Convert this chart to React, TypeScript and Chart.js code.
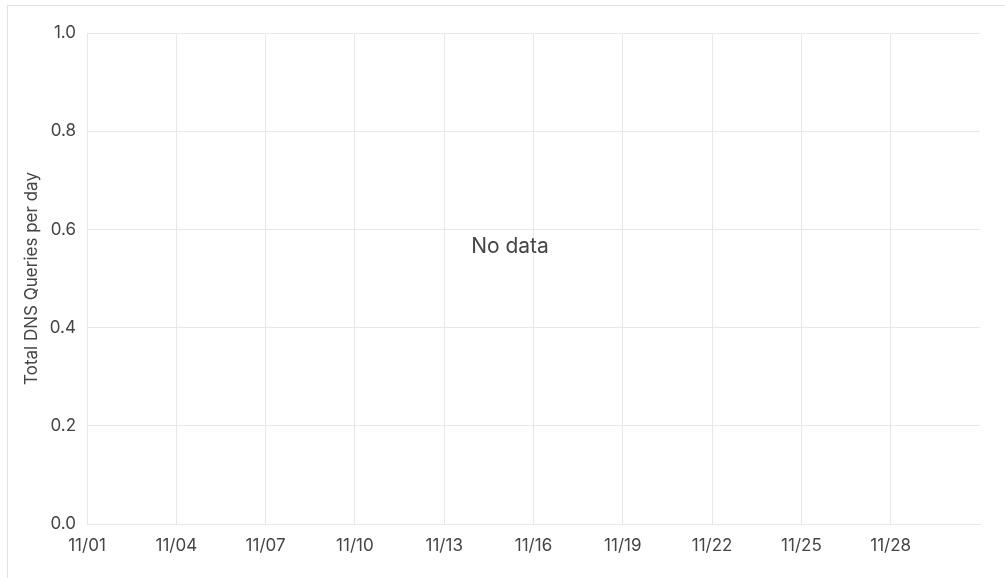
import React, { useEffect, useRef } from "react";
import { Chart, registerables } from "chart.js";

Chart.register(...registerables);

const xTickLabels = ["11/01", "11/04", "11/07", "11/10", "11/13", "11/16", "11/19", "11/22", "11/25", "11/28"];
const xTickValues = [0, 3, 6, 9, 12, 15, 18, 21, 24, 27];
const xMin = 0;
const xMax = 30;
const yMin = 0;
const yMax = 1;
const yStep = 0.2;
const seriesValues: { x: number; y: number }[] = [];
const yTitle = "Total DNS Queries per day";
const emptyText = "No data";

const FONT = "Inter, 'Noto Sans', sans-serif";
const TEXT = "#454545";
const GRID = "#e8e8e8";

const noDataPlugin = {
  id: "noData",
  afterDraw(chart: any) {
    const ctx = chart.ctx;
    ctx.save();
    ctx.font = `21px ${FONT}`;
    ctx.fillStyle = TEXT;
    ctx.textAlign = "center";
    ctx.textBaseline = "middle";
    ctx.fillText(emptyText, 510, 247);
    ctx.restore();
  },
};

export default function App() {
  const ref = useRef<HTMLCanvasElement | null>(null);
  useEffect(() => {
    if (!ref.current) return;
    const chart = new Chart(ref.current, {
      type: "line",
      data: {
        datasets: [
          {
            label: "DNS Queries",
            data: seriesValues,
            borderColor: "#3b82f6",
            backgroundColor: "#3b82f6",
          },
        ],
      },
      options: {
        animation: false,
        responsive: false,
        maintainAspectRatio: false,
        layout: { padding: { left: 0, top: 33, right: 25, bottom: 0 } },
        plugins: { legend: { display: false }, tooltip: { enabled: false } },
        scales: {
          x: {
            type: "linear",
            min: xMin,
            max: xMax,
            afterBuildTicks: (s: any) => {
              s.ticks = xTickValues.map((v) => ({ value: v }));
            },
            afterFit: (s: any) => {
              s.height = 578 - 524;
            },
            grid: { color: GRID, drawTicks: false, lineWidth: 1 },
            border: { color: GRID },
            ticks: {
              padding: 12,
              color: TEXT,
              font: { family: FONT, size: 17 },
              maxRotation: 0,
              autoSkip: false,
              callback: (v: any) => {
                const i = xTickValues.indexOf(Number(v));
                return i >= 0 ? xTickLabels[i] : "";
              },
            },
          },
          y: {
            type: "linear",
            min: yMin,
            max: yMax,
            afterFit: (s: any) => {
              s.width = 87;
            },
            grid: { color: GRID, drawTicks: false },
            border: { color: GRID },
            ticks: {
              stepSize: yStep,
              padding: 11,
              color: TEXT,
              font: { family: FONT, size: 17 },
              callback: (v: any) => Number(v).toFixed(1),
            },
            title: {
              display: true,
              text: yTitle,
              color: TEXT,
              font: { family: FONT, size: 17 },
              padding: { top: 22, bottom: 0 },
            },
          },
        },
      },
      plugins: [noDataPlugin],
    });
    return () => chart.destroy();
  }, []);

  return (
    <div style={{ position: "absolute", left: 0, top: 0, width: 1005, height: 578, overflow: "hidden", background: "#fff" }}>
      <div
        style={{
          position: "absolute",
          left: 7,
          top: 5,
          width: 1100,
          height: 700,
          borderTop: "1px solid #e2e2e2",
          borderLeft: "1px solid #e2e2e2",
        }}
      />
      <canvas ref={ref} width={1005} height={578} style={{ position: "absolute", left: 0, top: 0, width: 1005, height: 578 }} />
    </div>
  );
}
